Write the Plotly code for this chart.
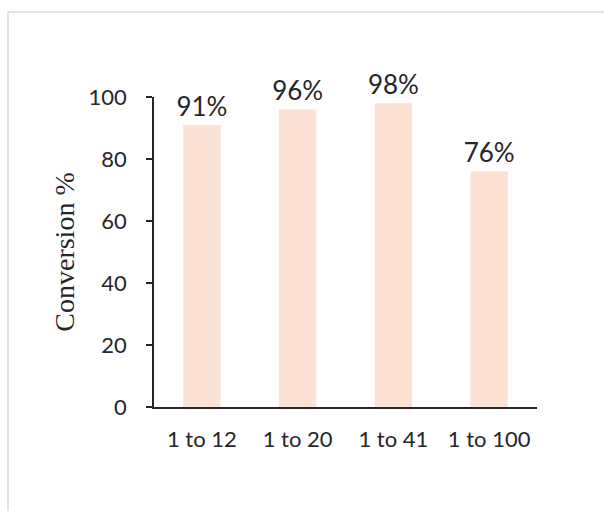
import plotly.graph_objects as go

# Conversion by ratio
categories = ["1 to 12", "1 to 20", "1 to 41", "1 to 100"]
conversion = [91, 96, 98, 76]
labels = ["91%", "96%", "98%", "76%"]

W, H = 604, 511
left, right, top, bottom = 154, 67, 97, 104
SANS = "Lato, Carlito, Liberation Sans, sans-serif"

fig = go.Figure(
    go.Bar(
        x=categories,
        y=conversion,
        text=labels,
        textposition="outside",
        constraintext="none",
        cliponaxis=False,
        textfont=dict(family=SANS, size=26, color="#262626"),
        marker=dict(color="#FBE2D4", line=dict(width=0)),
        width=0.39,
    )
)

fig.update_layout(
    width=W,
    height=H,
    margin=dict(l=left, r=right, t=top, b=bottom),
    paper_bgcolor="white",
    plot_bgcolor="white",
    showlegend=False,
    xaxis=dict(
        showline=True,
        linecolor="#262626",
        linewidth=1.5,
        ticks="",
        tickfont=dict(family=SANS, size=22, color="#262626"),
        ticklabelstandoff=12,
        showgrid=False,
        zeroline=False,
    ),
    yaxis=dict(
        range=[0, 100],
        tickvals=[0, 20, 40, 60, 80, 100],
        showline=True,
        linecolor="#262626",
        linewidth=1.5,
        ticks="outside",
        ticklen=6,
        tickwidth=1.5,
        tickcolor="#262626",
        tickfont=dict(family=SANS, size=22, color="#262626"),
        ticklabelstandoff=15,
        showgrid=False,
        zeroline=False,
        title=dict(
            text="Conversion %",
            font=dict(family="Liberation Serif, Times New Roman, serif", size=28, color="#262626"),
            standoff=6,
        ),
    ),
    shapes=[
        # light frame edges (top and left)
        dict(type="line", xref="paper", yref="paper",
             x0=(8 - left) / (W - left - right), x1=(W - left) / (W - left - right),
             y0=(H - bottom - 12) / (H - top - bottom), y1=(H - bottom - 12) / (H - top - bottom),
             line=dict(color="#DADADA", width=1.5)),
        dict(type="line", xref="paper", yref="paper",
             x0=(8 - left) / (W - left - right), x1=(8 - left) / (W - left - right),
             y0=(H - bottom - 12) / (H - top - bottom), y1=(-bottom) / (H - top - bottom),
             line=dict(color="#DADADA", width=1.5)),
    ],
)

fig.write_html("out.html")
